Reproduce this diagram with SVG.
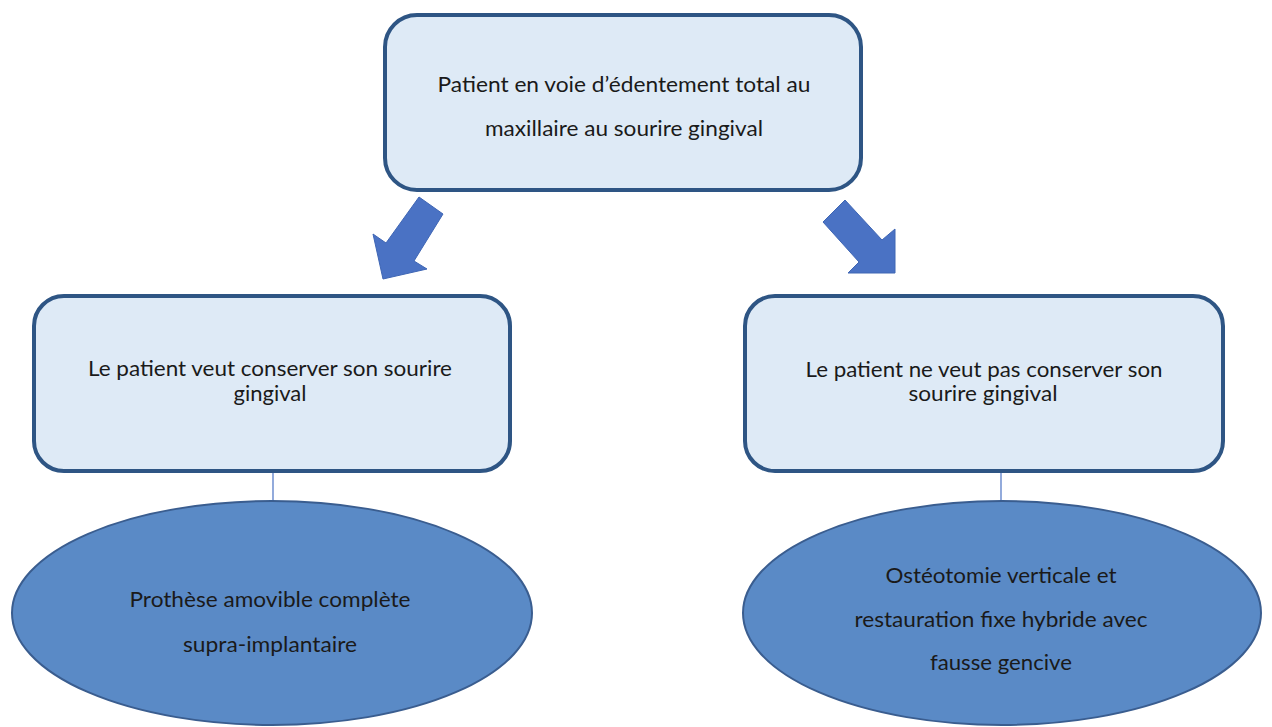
<svg xmlns="http://www.w3.org/2000/svg" width="1272" height="727" viewBox="0 0 1272 727">
<style>
.box{fill:#DEEAF6;stroke:#2E5584;stroke-width:4}
.oval{fill:#5A8AC6;stroke:#3A5D8F;stroke-width:2}
.arrow{fill:#4A72C4;stroke:#3F66B4;stroke-width:1}
.line{stroke:#4A72C4;stroke-width:1.2;fill:none}
text{font-family:Lato,"Open Sans","Liberation Sans",sans-serif;font-size:21.5px;fill:#1A1A1A;text-anchor:middle}
</style>
<rect width="1272" height="727" fill="#FFFFFF"/>
<g id="connectors">
<polygon class="arrow" points="419,197 443,214 414,261 427,269 383,279 373,234 386,243"/>
<polygon class="arrow" points="845,200 882,240 895,229 895,273 848,273 859,262 823,222"/>
<line class="line" x1="273" y1="473" x2="273" y2="502"/>
<line class="line" x1="1001" y1="473" x2="1001" y2="501"/>
</g>
<g id="top">
<rect class="box" x="385" y="15" width="476" height="175" rx="32"/>
<text x="624" y="92" textLength="373" lengthAdjust="spacingAndGlyphs">Patient en voie d’édentement total au</text>
<text x="624" y="136" textLength="278" lengthAdjust="spacingAndGlyphs">maxillaire au sourire gingival</text>
</g>
<g id="left">
<rect class="box" x="34" y="296" width="476" height="175" rx="30"/>
<text x="270" y="376" textLength="364" lengthAdjust="spacingAndGlyphs">Le patient veut conserver son sourire</text>
<text x="270" y="401" textLength="73" lengthAdjust="spacingAndGlyphs">gingival</text>
</g>
<g id="right">
<rect class="box" x="745" y="296" width="478" height="175" rx="30"/>
<text x="984" y="377" textLength="357" lengthAdjust="spacingAndGlyphs">Le patient ne veut pas conserver son</text>
<text x="983" y="401" textLength="149" lengthAdjust="spacingAndGlyphs">sourire gingival</text>
</g>
<g id="leftOval">
<ellipse class="oval" cx="272" cy="613" rx="260" ry="112"/>
<text x="270" y="607" textLength="281" lengthAdjust="spacingAndGlyphs">Prothèse amovible complète</text>
<text x="270" y="652" textLength="174" lengthAdjust="spacingAndGlyphs">supra-implantaire</text>
</g>
<g id="rightOval">
<ellipse class="oval" cx="1002" cy="613" rx="259" ry="112"/>
<text x="1001" y="583" textLength="231" lengthAdjust="spacingAndGlyphs">Ostéotomie verticale et</text>
<text x="1001" y="627" textLength="293" lengthAdjust="spacingAndGlyphs">restauration fixe hybride avec</text>
<text x="1001" y="670" textLength="142" lengthAdjust="spacingAndGlyphs">fausse gencive</text>
</g>
</svg>
